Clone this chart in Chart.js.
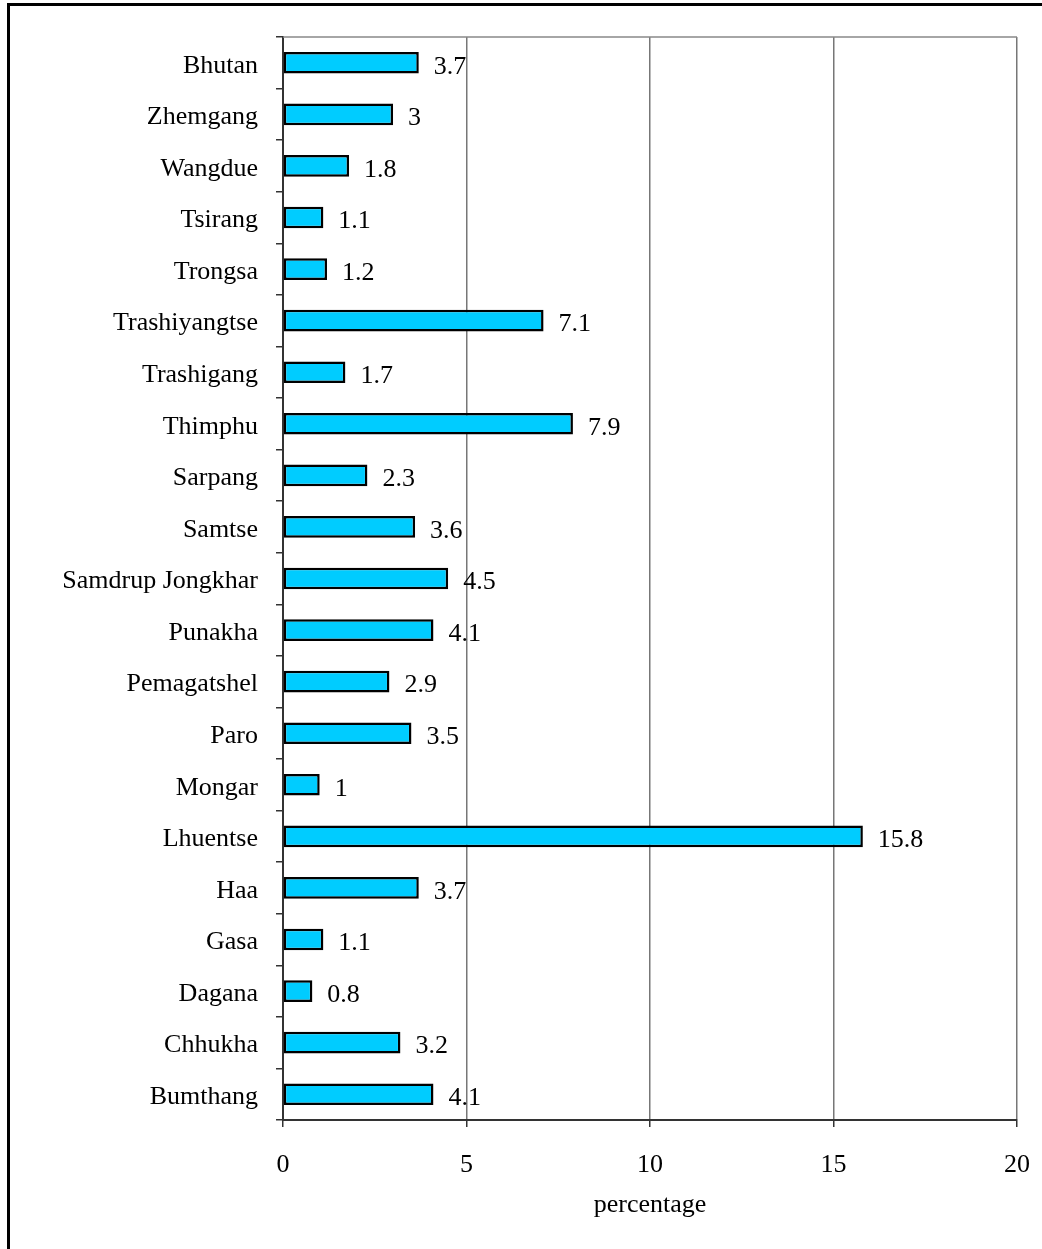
<!DOCTYPE html>
<html>
<head>
<meta charset="utf-8">
<script src="https://cdn.jsdelivr.net/npm/chart.js@4/dist/chart.umd.min.js"></script>
<style>
  html, body { margin: 0; padding: 0; background: #fff; }
  canvas { display: block; }
</style>
</head>
<body>
<canvas id="chart" width="1042" height="1249"></canvas>
<script>
// districts, top to bottom as in the picture
const districts = ['Bhutan', 'Zhemgang', 'Wangdue', 'Tsirang', 'Trongsa', 'Trashiyangtse', 'Trashigang',
    'Thimphu', 'Sarpang', 'Samtse', 'Samdrup Jongkhar', 'Punakha', 'Pemagatshel', 'Paro', 'Mongar',
    'Lhuentse', 'Haa', 'Gasa', 'Dagana', 'Chhukha', 'Bumthang'];
const percentages = [3.7, 3, 1.8, 1.1, 1.2, 7.1, 1.7, 7.9, 2.3, 3.6, 4.5, 4.1, 2.9, 3.5, 1, 15.8, 3.7, 1.1, 0.8, 3.2, 4.1];
const xTicks = [0, 5, 10, 15, 20];

const FONT = 'Liberation Serif, Times New Roman, serif';

// value labels just past the end of each bar
const valueLabels = {
    id: 'valueLabels',
    afterDatasetsDraw(chart) {
        const ctx = chart.ctx;
        const meta = chart.getDatasetMeta(0);
        ctx.save();
        ctx.font = '26px ' + FONT;
        ctx.fillStyle = '#000';
        ctx.textAlign = 'left';
        ctx.textBaseline = 'middle';
        meta.data.forEach((bar, i) => {
            ctx.fillText(String(percentages[i]), bar.x + 15, bar.y + 4);
        });
        ctx.restore();
    }
};

// outer frame + top border of plot area
const frame = {
    id: 'frame',
    afterDraw(chart) {
        const ctx = chart.ctx;
        const a = chart.chartArea;
        ctx.save();
        ctx.strokeStyle = '#888';
        ctx.lineWidth = 1.5;
        ctx.beginPath();
        ctx.moveTo(a.left, a.top);
        ctx.lineTo(a.right, a.top);
        ctx.stroke();

        ctx.strokeStyle = '#000';
        ctx.lineWidth = 3;
        ctx.beginPath();
        ctx.moveTo(8.5, chart.height);
        ctx.lineTo(8.5, 4.5);
        ctx.lineTo(chart.width, 4.5);
        ctx.stroke();
        ctx.restore();
    }
};

new Chart(document.getElementById('chart'), {
    type: 'bar',
    data: {
        labels: districts,
        datasets: [{
            data: percentages,
            backgroundColor: '#00CCFF',
            borderColor: '#000',
            borderWidth: 2.5,
            borderSkipped: false,
            barPercentage: 0.42,
            categoryPercentage: 1
        }]
    },
    options: {
        indexAxis: 'y',
        responsive: false,
        animation: false,
        layout: { padding: { top: 37, right: 25, left: 0, bottom: 0 } },
        plugins: { legend: { display: false }, tooltip: { enabled: false } },
        scales: {
            x: {
                min: xTicks[0],
                max: xTicks[xTicks.length - 1],
                afterBuildTicks: (scale) => { scale.ticks = xTicks.map(v => ({ value: v })); },
                afterFit: (scale) => {
                    scale.height = 129;
                    scale.paddingLeft = 0;
                    scale.paddingRight = 0;
                },
                grid: { color: '#777', lineWidth: 1.5, tickLength: 7, tickColor: '#333' },
                border: { color: '#333', width: 2 },
                ticks: { color: '#000', padding: 23, font: { family: FONT, size: 26 } },
                title: {
                    display: true, text: 'percentage', color: '#000',
                    padding: { top: 0, bottom: 28 },
                    font: { family: FONT, size: 26 }
                }
            },
            y: {
                afterFit: (scale) => { scale.width = 283; },
                grid: { drawOnChartArea: false, offset: true, tickLength: 7, color: '#333', lineWidth: 1.5 },
                border: { color: '#333', width: 2 },
                ticks: { color: '#000', padding: 18, labelOffset: 3, autoSkip: false, font: { family: FONT, size: 26 } }
            }
        }
    },
    plugins: [valueLabels, frame]
});
</script>
</body>
</html>
